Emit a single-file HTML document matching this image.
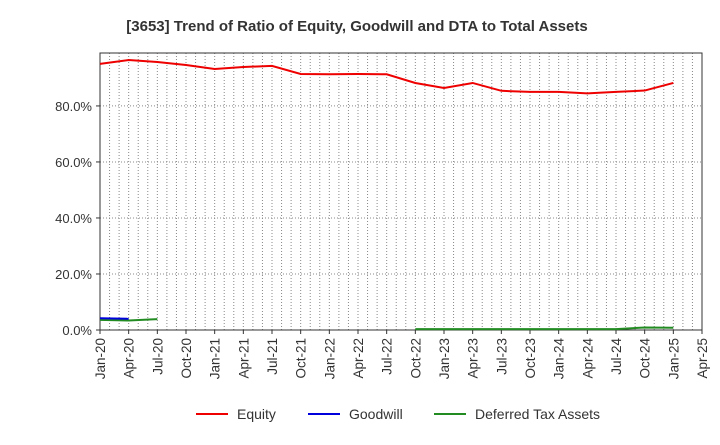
<!DOCTYPE html>
<html><head><meta charset="utf-8"><style>
body{margin:0;background:#fff;font-family:"Liberation Sans",sans-serif;}
</style></head><body>
<svg id="chart" width="720" height="440" xmlns="http://www.w3.org/2000/svg" font-family="Liberation Sans, sans-serif">
<text x="357" y="31" text-anchor="middle" font-size="15" font-weight="bold" fill="#333">[3653]  Trend of Ratio of Equity, Goodwill and DTA to Total Assets</text>
<g id="grid"></g><g id="axes"></g><g id="series"></g>
<g>
<g><line x1="196" y1="414" x2="228" y2="414" stroke="#e00" stroke-width="2"/><text x="237" y="419" font-size="14" fill="#333">Equity</text></g>
<g><line x1="308" y1="414" x2="340" y2="414" stroke="#0000dd" stroke-width="2"/><text x="349" y="419" font-size="14" fill="#333">Goodwill</text></g>
<g><line x1="434" y1="414" x2="466" y2="414" stroke="#228B22" stroke-width="2"/><text x="475" y="419" font-size="14" fill="#333">Deferred Tax Assets</text></g>
</g>
</svg>
<script>
const categories=["Jan-20","Apr-20","Jul-20","Oct-20","Jan-21","Apr-21","Jul-21","Oct-21","Jan-22","Apr-22","Jul-22","Oct-22","Jan-23","Apr-23","Jul-23","Oct-23","Jan-24","Apr-24","Jul-24","Oct-24","Jan-25","Apr-25"];
const equity=[95.0,96.4,95.7,94.6,93.2,93.9,94.3,91.4,91.3,91.4,91.3,88.2,86.4,88.2,85.4,85.0,85.0,84.5,85.0,85.5,88.2,null];
const goodwill=[4.2,4.0,null,null,null,null,null,null,null,null,null,null,null,null,null,null,null,null,null,null,null,null];
const dta=[3.6,3.4,3.9,null,null,null,null,null,null,null,null,0.3,0.3,0.3,0.3,0.3,0.3,0.3,0.3,0.9,0.8,null];
const yTicks=[0,20,40,60,80];
const X0=100,X1=702,Y0=330,Y1=53,YMAX=98.9;
const x=i=>X0+(X1-X0)*i/(categories.length-1);
const y=v=>Y0-(Y0-Y1)*v/YMAX;
const NS="http://www.w3.org/2000/svg";
function mk(t,a,p){const e=document.createElementNS(NS,t);for(const k in a)e.setAttribute(k,a[k]);p.appendChild(e);return e;}
const grid=document.getElementById('grid'),axes=document.getElementById('axes'),ser=document.getElementById('series');
for(let m=1;m<(categories.length-1)*3;m++){const gx=X0+(X1-X0)*m/((categories.length-1)*3);
const l=mk('line',{x1:gx,x2:gx,y1:Y1,y2:Y0,stroke:'#888','stroke-dasharray':'1,2','stroke-width':1},grid);

}
yTicks.forEach(v=>{if(v>0){const l=mk('line',{x1:X0,x2:X1,y1:y(v),y2:y(v),stroke:'#888','stroke-dasharray':'1,2'},grid);

}
const t=mk('text',{x:X0-8,y:y(v)+5,'text-anchor':'end','font-size':13,fill:'#333'},axes);t.textContent=v.toFixed(1)+'%';


mk('line',{x1:X0-4,x2:X0,y1:y(v),y2:y(v),stroke:'#333'},axes);});
const fr=mk('rect',{x:X0,y:Y1,width:X1-X0,height:Y0-Y1,fill:'none',stroke:'#333'},axes);


categories.forEach((c,i)=>{mk('line',{x1:x(i),x2:x(i),y1:Y0,y2:Y0+4,stroke:'#333'},axes);
const t=mk('text',{transform:`translate(${x(i)+5},${Y0+8}) rotate(-90)`,'text-anchor':'end','font-size':13.5,fill:'#333'},axes);t.textContent=c;

});
function line(data,color,name){let d='',pen=false;data.forEach((v,i)=>{if(v==null){pen=false;return;}d+=(pen?'L':'M')+x(i)+','+y(v);pen=true;});
const p=mk('path',{d:d,fill:'none',stroke:color,'stroke-width':2},ser);

}
line(dta,'#228B22','dta-line');line(goodwill,'#0000dd','goodwill-line');line(equity,'#e00','equity-line');
</script>
</body></html>
